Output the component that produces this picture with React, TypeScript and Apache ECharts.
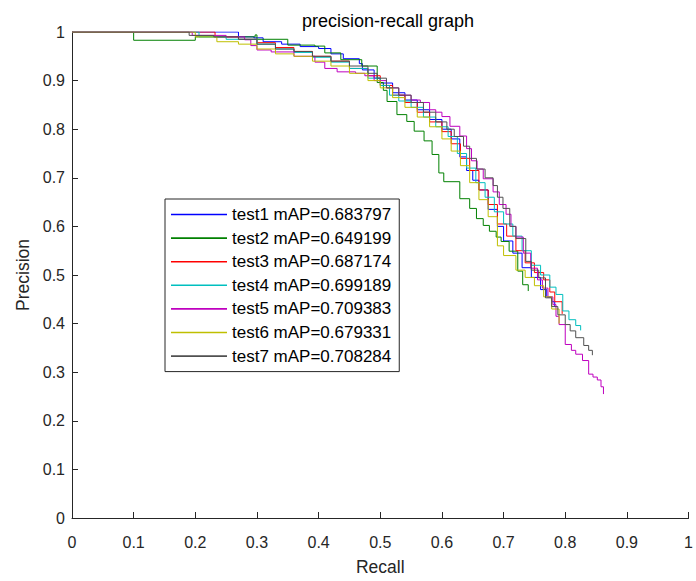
import React, { useEffect, useRef } from "react";
import * as echarts from "echarts";

const seriesNames = [
  "test1 mAP=0.683797",
  "test2 mAP=0.649199",
  "test3 mAP=0.687174",
  "test4 mAP=0.699189",
  "test5 mAP=0.709383",
  "test6 mAP=0.679331",
  "test7 mAP=0.708284",
];

const seriesColors = ["#0000ff", "#008000", "#ff0000", "#00bfbf", "#bf00bf", "#bfbf00", "#505050"];

const xTicks = [0, 0.1, 0.2, 0.3, 0.4, 0.5, 0.6, 0.7, 0.8, 0.9, 1];

// [recall, precision]
const test1 = [
  [0, 1], [0.27, 1], [0.27, 0.99], [0.295, 0.988], [0.31, 0.98], [0.34, 0.975], [0.37, 0.97],
  [0.4, 0.966], [0.42, 0.955], [0.44, 0.945], [0.466, 0.935], [0.471, 0.922], [0.49, 0.905],
  [0.5, 0.895], [0.52, 0.875], [0.54, 0.86], [0.56, 0.84], [0.58, 0.82], [0.6, 0.8],
  [0.615, 0.78], [0.629, 0.743], [0.64, 0.715], [0.65, 0.695], [0.66, 0.675], [0.675, 0.635],
  [0.69, 0.6], [0.7, 0.57], [0.715, 0.545], [0.73, 0.515], [0.745, 0.495], [0.76, 0.47],
  [0.77, 0.455], [0.778, 0.445], [0.783, 0.435],
];

const test2 = [
  [0, 1], [0.1, 1], [0.1, 0.983], [0.2, 0.99], [0.297, 0.994], [0.3, 0.985], [0.35, 0.973],
  [0.394, 0.971], [0.41, 0.957], [0.436, 0.957], [0.436, 0.943], [0.47, 0.93], [0.495, 0.896],
  [0.505, 0.88], [0.511, 0.857], [0.527, 0.83], [0.543, 0.816], [0.555, 0.796], [0.571, 0.776],
  [0.584, 0.748], [0.595, 0.71], [0.603, 0.692], [0.629, 0.657], [0.645, 0.637], [0.656, 0.616],
  [0.667, 0.602], [0.677, 0.59], [0.688, 0.578], [0.696, 0.569], [0.709, 0.549], [0.723, 0.508],
  [0.731, 0.48], [0.74, 0.467],
];

const test3 = [
  [0, 1], [0.232, 1], [0.232, 0.99], [0.27, 0.985], [0.3, 0.978], [0.33, 0.968], [0.36, 0.96],
  [0.39, 0.95], [0.42, 0.94], [0.45, 0.925], [0.48, 0.91], [0.5, 0.89], [0.52, 0.87],
  [0.54, 0.855], [0.56, 0.835], [0.58, 0.815], [0.6, 0.795], [0.615, 0.77], [0.63, 0.74],
  [0.645, 0.715], [0.66, 0.675], [0.675, 0.645], [0.69, 0.605], [0.705, 0.58], [0.72, 0.55],
  [0.735, 0.525], [0.75, 0.505], [0.765, 0.49], [0.775, 0.465], [0.783, 0.445], [0.795, 0.42],
];

const test4 = [
  [0, 1], [0.206, 1], [0.206, 0.99], [0.25, 0.985], [0.3, 0.975], [0.33, 0.965], [0.36, 0.958],
  [0.39, 0.948], [0.42, 0.938], [0.45, 0.925], [0.48, 0.905], [0.5, 0.89], [0.515, 0.87],
  [0.53, 0.858], [0.55, 0.845], [0.57, 0.825], [0.59, 0.805], [0.61, 0.785], [0.625, 0.75],
  [0.64, 0.72], [0.655, 0.69], [0.67, 0.66], [0.685, 0.63], [0.7, 0.605], [0.715, 0.58],
  [0.73, 0.55], [0.745, 0.52], [0.76, 0.5], [0.775, 0.475], [0.785, 0.46], [0.796, 0.426],
  [0.806, 0.408], [0.817, 0.396], [0.825, 0.386],
];

const test5 = [
  [0, 1], [0.195, 1], [0.195, 0.993], [0.25, 0.99], [0.28, 0.984], [0.29, 0.972], [0.3, 0.963],
  [0.323, 0.959], [0.36, 0.95], [0.394, 0.938], [0.41, 0.925], [0.43, 0.918], [0.46, 0.915],
  [0.475, 0.91], [0.49, 0.9], [0.51, 0.885], [0.53, 0.87], [0.55, 0.86], [0.565, 0.855],
  [0.58, 0.84], [0.59, 0.835], [0.6, 0.826], [0.613, 0.806], [0.629, 0.786], [0.64, 0.76],
  [0.648, 0.735], [0.657, 0.718], [0.667, 0.698], [0.683, 0.671], [0.693, 0.645], [0.704, 0.625],
  [0.712, 0.6], [0.72, 0.578], [0.732, 0.545], [0.744, 0.514], [0.755, 0.49], [0.763, 0.473],
  [0.772, 0.455], [0.78, 0.439], [0.785, 0.415], [0.79, 0.398], [0.8, 0.357], [0.81, 0.345],
  [0.817, 0.337], [0.828, 0.324], [0.838, 0.296], [0.845, 0.29], [0.852, 0.284], [0.858, 0.27],
  [0.862, 0.255],
];

const test6 = [
  [0, 1], [0.2, 1], [0.2, 0.99], [0.235, 0.988], [0.235, 0.98], [0.27, 0.975], [0.3, 0.965],
  [0.33, 0.955], [0.36, 0.95], [0.39, 0.94], [0.42, 0.93], [0.45, 0.915], [0.48, 0.9],
  [0.5, 0.885], [0.52, 0.865], [0.54, 0.845], [0.56, 0.825], [0.58, 0.805], [0.6, 0.78],
  [0.615, 0.755], [0.63, 0.725], [0.645, 0.69], [0.66, 0.655], [0.675, 0.62], [0.69, 0.56],
  [0.7, 0.54], [0.72, 0.51], [0.735, 0.495], [0.75, 0.478], [0.765, 0.455], [0.778, 0.43],
  [0.79, 0.4],
];

const test7 = [
  [0, 1], [0.19, 1], [0.19, 0.993], [0.23, 0.99], [0.27, 0.985], [0.3, 0.975], [0.33, 0.965],
  [0.36, 0.96], [0.39, 0.95], [0.42, 0.94], [0.45, 0.93], [0.48, 0.915], [0.495, 0.905],
  [0.51, 0.885], [0.53, 0.87], [0.55, 0.855], [0.57, 0.835], [0.59, 0.815], [0.608, 0.8],
  [0.62, 0.785], [0.635, 0.765], [0.645, 0.74], [0.656, 0.718], [0.67, 0.7], [0.683, 0.684],
  [0.69, 0.66], [0.699, 0.637], [0.71, 0.6], [0.72, 0.575], [0.736, 0.528], [0.745, 0.51],
  [0.757, 0.494], [0.768, 0.453], [0.778, 0.435], [0.788, 0.418], [0.8, 0.398], [0.808, 0.385],
  [0.817, 0.371], [0.83, 0.355], [0.838, 0.345], [0.844, 0.335],
];

const allSeries = [test1, test2, test3, test4, test5, test6, test7];

const FONT = "'Liberation Sans', Arial, Helvetica, sans-serif";
const INK = "#262626";

export default function App() {
  const ref = useRef<HTMLDivElement>(null);
  useEffect(() => {
    if (!ref.current) return;
    const chart = echarts.init(ref.current, undefined, { renderer: "svg" });
    chart.setOption({
      animation: false,
      backgroundColor: "#ffffff",
      title: {
        text: "precision-recall graph",
        left: 383,
        textAlign: "center",
        top: 7,
        textStyle: { fontFamily: FONT, fontSize: 18, fontWeight: "normal", color: "#000" },
      },
      grid: { left: 72, right: 2, top: 32, bottom: 59, containLabel: false },
      legend: {
        orient: "vertical",
        left: 165,
        top: 199,
        data: seriesNames.map((n) => ({ name: n, icon: "rect" })),
        itemWidth: 56,
        itemHeight: 1.6,
        itemGap: 6.6,
        padding: [7, 8, 7, 6],
        borderColor: INK,
        borderWidth: 1,
        backgroundColor: "#ffffff",
        textStyle: { fontFamily: FONT, fontSize: 17, color: "#000", lineHeight: 17 },
      },
      xAxis: {
        type: "value",
        min: 0,
        max: 1,
        interval: 0.1,
        name: "Recall",
        nameLocation: "middle",
        nameGap: 40,
        nameTextStyle: { fontFamily: FONT, fontSize: 17.5, color: INK },
        axisLine: { show: true, lineStyle: { color: INK, width: 1 } },
        axisTick: { show: true, inside: true, length: 6, lineStyle: { color: INK } },
        axisLabel: {
          fontFamily: FONT,
          fontSize: 16,
          color: INK,
          margin: 16,
          formatter: (v: number) => {
            const t = xTicks.find((x) => Math.abs(x - v) < 1e-9);
            return String(t !== undefined ? t : v);
          },
        },
        splitLine: { show: false },
      },
      yAxis: {
        type: "value",
        min: 0,
        max: 1,
        interval: 0.1,
        name: "Precision",
        nameLocation: "middle",
        nameGap: 37,
        nameTextStyle: { fontFamily: FONT, fontSize: 17.5, color: INK },
        axisLine: { show: true, lineStyle: { color: INK, width: 1 } },
        axisTick: { show: true, inside: true, length: 6, lineStyle: { color: INK } },
        axisLabel: { fontFamily: FONT, fontSize: 16, color: INK, margin: 7 },
        splitLine: { show: false },
      },
      series: allSeries.map((pts, i) => ({
        name: seriesNames[i],
        type: "line",
        step: "end",
        symbol: "none",
        showSymbol: false,
        data: pts,
        color: seriesColors[i],
        itemStyle: { color: seriesColors[i] },
        lineStyle: { color: seriesColors[i], width: 1 },
      })),
    });
    return () => chart.dispose();
  }, []);
  return (
    <div
      ref={ref}
      style={{ position: "fixed", left: 0, top: 0, width: 696, height: 581, background: "#fff" }}
    />
  );
}
